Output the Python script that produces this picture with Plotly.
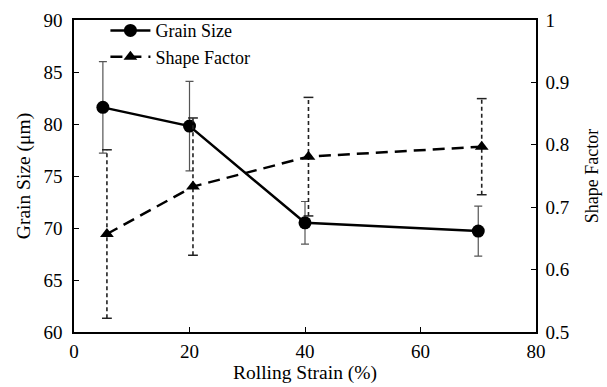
import plotly.graph_objects as go

# Rolling strain levels (%)
strain = [5, 20, 40, 70]
strain_sf = [5.7, 20.6, 40.6, 70.6]   # shape-factor points sit slightly right

# Grain size (µm) and its standard deviation
grain_size = [81.6, 79.8, 70.5, 69.7]
grain_err = [4.4, 4.3, 2.05, 2.4]

# Shape factor and its standard deviation
shape_factor = [0.657, 0.733, 0.781, 0.797]
shape_err = [0.135, 0.11, 0.095, 0.077]

FONT = "Liberation Serif"
fig = go.Figure()

# Grain size: solid line with circles and solid error bars
fig.add_trace(go.Scatter(
    x=strain, y=grain_size, name="Grain Size", mode="lines+markers",
    line=dict(color="black", width=2.5),
    marker=dict(symbol="circle", size=13, color="black"),
    error_y=dict(type="data", array=grain_err, visible=True,
                 color="#555555", thickness=1.2, width=4),
))

# Shape factor error bars drawn as dashed segments with caps
seg_x, seg_y, cap_x, cap_y = [], [], [], []
for xv, v, e in zip(strain_sf, shape_factor, shape_err):
    seg_x += [xv, xv, None]
    seg_y += [v - e, v + e, None]
    cap_x += [xv, xv]
    cap_y += [v - e, v + e]
fig.add_trace(go.Scatter(
    x=seg_x, y=seg_y, mode="lines", yaxis="y2", showlegend=False,
    line=dict(color="#222222", width=1.6, dash="4px,3px"), hoverinfo="skip",
))
fig.add_trace(go.Scatter(
    x=cap_x, y=cap_y, mode="markers", yaxis="y2", showlegend=False,
    marker=dict(symbol="line-ew", size=7, line=dict(color="#222222", width=1.5)),
    hoverinfo="skip",
))

# Shape factor: dashed line with triangles
fig.add_trace(go.Scatter(
    x=strain_sf, y=shape_factor, name="Shape Factor", mode="lines+markers",
    yaxis="y2",
    line=dict(color="black", width=2.5, dash="12px,7px"),
    marker=dict(symbol="triangle-up", size=12, color="black"),
))


def axis_style(**kw):
    base = dict(
        showline=True, linecolor="black", linewidth=1.5, ticks="inside",
        ticklen=5, tickcolor="black", showgrid=False, zeroline=False,
        automargin=False,
        tickfont=dict(family=FONT, size=19, color="black"),
    )
    base.update(kw)
    return base


fig.update_layout(
    width=607, height=387,
    margin=dict(l=74, r=71, t=14, b=55),
    paper_bgcolor="white", plot_bgcolor="white",
    font=dict(family=FONT, size=19, color="black"),
    xaxis=axis_style(range=[0, 80], dtick=20, mirror=True, ticklabelstandoff=1,
                     title=dict(text="Rolling Strain (%)", standoff=3,
                                font=dict(family=FONT, size=19.5))),
    yaxis=axis_style(range=[60, 90], dtick=5, ticklabelstandoff=6,
                     title=dict(text="Grain Size (μm)", standoff=8,
                                font=dict(family=FONT, size=19.5))),
    yaxis2=axis_style(range=[0.5, 1.0], dtick=0.1, overlaying="y", side="right",
                      ticklabelstandoff=4,
                      title=dict(text="Shape Factor", standoff=17,
                                 font=dict(family=FONT, size=18))),
    legend=dict(x=0.068, y=1.025, xanchor="left", yanchor="top",
                bgcolor="rgba(0,0,0,0)", font=dict(family=FONT, size=18),
                tracegroupgap=0, itemwidth=40),
    showlegend=True,
)

fig.write_html("out.html")
